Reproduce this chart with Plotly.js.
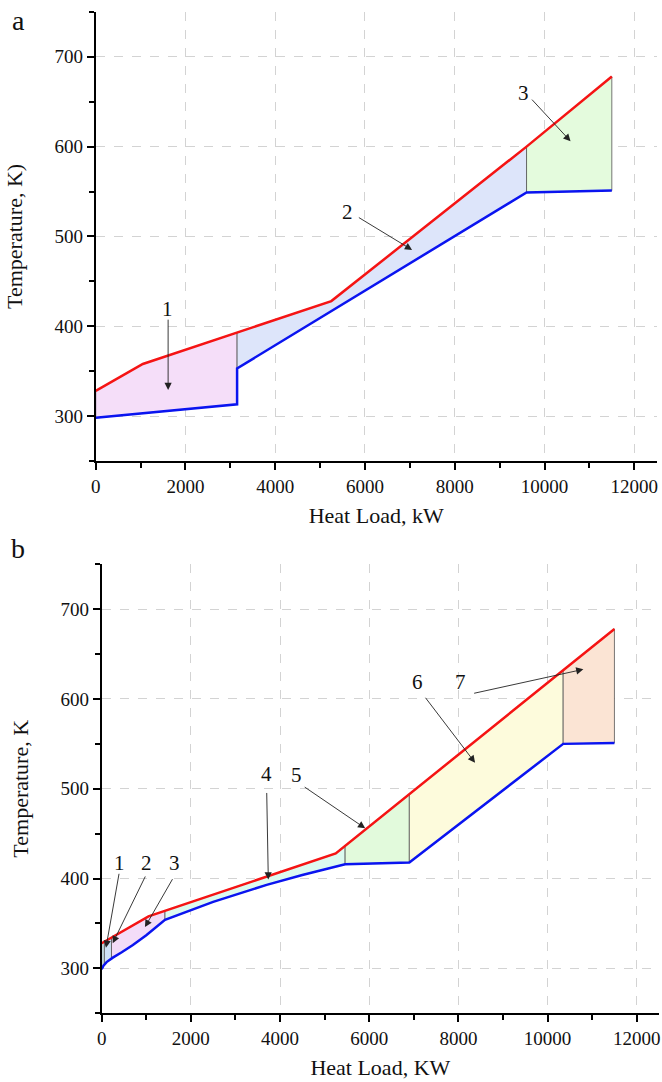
<!DOCTYPE html>
<html>
<head>
<meta charset="utf-8">
<script src="https://cdn.plot.ly/plotly-3.0.1.min.js"></script>
<style>html,body{margin:0;padding:0;background:#fff;}#chart{width:662px;height:1082px;}</style>
</head>
<body>
<div id="chart"></div>
<script>
// ---------- Panel a data ----------
const hotQ_a = [0, 1050, 5250, 9600, 11500];
const hotT_a = [328, 358, 428, 600, 678];
const coldQ_a = [0, 3150, 3150, 9600, 11500];
const coldT_a = [298, 313, 353, 549, 551];
const zoneBounds_a = [0, 3150, 9600, 11500];
const zoneColors_a = ['#f5def9', '#dde5fa', '#e4fbdd'];
const labels_a = ['1', '2', '3'];
const labelTextQ_a = [1600, 5600, 9525];
const labelTextT_a = [419, 527, 660];
const arrowTailQ_a = [1613, 5830, 9690];
const arrowTailT_a = [409, 522, 654];
const arrowTipQ_a = [1613, 7049, 10580];
const arrowTipT_a = [329, 485, 606];

// ---------- Panel b data ----------
const hotQ_b = [0, 1050, 5250, 11500];
const hotT_b = [328, 358, 428, 678];
const coldQ_b = [0, 40, 110, 250, 450, 700, 1000, 1420, 2500, 3700, 4500, 5460, 6900, 10350, 11500];
const coldT_b = [299, 303, 307, 312, 318, 326, 337, 354, 374, 393, 404, 416, 418, 550, 551];
const zoneBounds_b = [0, 60, 220, 1420, 5460, 6900, 10350, 11500];
const zoneColors_b = ['#d4ecf0', '#cfe2f5', '#f3dcf8', '#dcfaf0', '#e2fadc', '#fdfbdc', '#fbe4d4'];
const labels_b = ['1', '2', '3', '4', '5', '6', '7'];
const labelTextQ_b = [410, 994, 1622, 3701, 4374, 7088, 8037];
const labelTextT_b = [417, 417, 417, 517, 515, 619, 619];
const arrowTailQ_b = [395, 994, 1607, 3701, 4520, 7237, 8320];
const arrowTailT_b = [407, 404, 401, 497, 503, 603, 606];
const arrowTipQ_b = [96, 247, 971, 3737, 5910, 8374, 10803];
const arrowTipT_b = [323, 328, 346, 399, 456, 529, 633];

// ---------- helpers ----------
function interp(X, Y, q, fromRight) {
  for (let i = 0; i < X.length; i++) {
    if (X[i] === q) {
      if (fromRight) { let j = i; while (j + 1 < X.length && X[j + 1] === q) j++; return Y[j]; }
      return Y[i];
    }
    if (X[i] > q) {
      const t = (q - X[i - 1]) / (X[i] - X[i - 1]);
      return Y[i - 1] + t * (Y[i] - Y[i - 1]);
    }
  }
  return Y[Y.length - 1];
}
function segment(X, Y, q0, q1) {
  const xs = [q0], ys = [interp(X, Y, q0, true)];
  for (let i = 0; i < X.length; i++) { if (X[i] > q0 && X[i] < q1) { xs.push(X[i]); ys.push(Y[i]); } }
  xs.push(q1); ys.push(interp(X, Y, q1, false));
  return [xs, ys];
}
function zoneTraces(hQ, hT, cQ, cT, bounds, colors, xa, ya) {
  const out = [];
  for (let k = 0; k < bounds.length - 1; k++) {
    const [ux, uy] = segment(hQ, hT, bounds[k], bounds[k + 1]);
    const [lx, ly] = segment(cQ, cT, bounds[k], bounds[k + 1]);
    const px = ux.concat(lx.slice().reverse()); px.push(ux[0]);
    const py = uy.concat(ly.slice().reverse()); py.push(uy[0]);
    out.push({x: px, y: py, xaxis: xa, yaxis: ya, type: 'scatter', mode: 'lines', fill: 'toself',
      fillcolor: colors[k], line: {color: '#555', width: 0.8}, hoverinfo: 'skip', showlegend: false});
  }
  return out;
}
function curveTraces(hQ, hT, cQ, cT, xa, ya) {
  return [
    {x: cQ, y: cT, xaxis: xa, yaxis: ya, type: 'scatter', mode: 'lines', line: {color: '#0a14f0', width: 2.5}, showlegend: false},
    {x: hQ, y: hT, xaxis: xa, yaxis: ya, type: 'scatter', mode: 'lines', line: {color: '#f51414', width: 2.5}, showlegend: false}
  ];
}
const F = 'Liberation Serif, Times New Roman, serif';
function annots(lbl, tq, tt, aq, at, pq, pt, xr, yr) {
  const out = [];
  for (let i = 0; i < lbl.length; i++) {
    out.push({x: tq[i], y: tt[i], xref: xr, yref: yr, text: lbl[i], showarrow: false,
      font: {family: F, size: 21, color: '#111'}});
    out.push({x: pq[i], y: pt[i], ax: aq[i], ay: at[i], xref: xr, yref: yr, axref: xr, ayref: yr,
      text: '', showarrow: true, arrowhead: 2, arrowsize: 1.6, arrowwidth: 0.9, arrowcolor: '#222'});
  }
  return out;
}

const data = [].concat(
  zoneTraces(hotQ_a, hotT_a, coldQ_a, coldT_a, zoneBounds_a, zoneColors_a, 'x', 'y'),
  curveTraces(hotQ_a, hotT_a, coldQ_a, coldT_a, 'x', 'y'),
  zoneTraces(hotQ_b, hotT_b, coldQ_b, coldT_b, zoneBounds_b, zoneColors_b, 'x2', 'y2'),
  curveTraces(hotQ_b, hotT_b, coldQ_b, coldT_b, 'x2', 'y2')
);

function xAxis(domain, anchor, title) {
  return {domain: domain, anchor: anchor, range: [0, 12500], tick0: 0, dtick: 2000, tickformat: 'd',
    showline: true, linecolor: '#000', linewidth: 2, ticks: 'outside', ticklen: 7, tickwidth: 2, tickcolor: '#000',
    minor: {dtick: 1000, ticks: 'outside', ticklen: 5, tickwidth: 2, tickcolor: '#000', showgrid: false},
    showgrid: true, gridcolor: '#d3d3d3', griddash: 'dash', gridwidth: 1, zeroline: false,
    tickfont: {family: F, size: 19, color: '#111'},
    title: {text: title, font: {family: F, size: 22, color: '#111'}, standoff: 12}};
}
function yAxis(domain, anchor, title) {
  return {domain: domain, anchor: anchor, range: [250, 750], tick0: 0, dtick: 100, tickformat: 'd',
    showline: true, linecolor: '#000', linewidth: 2, ticks: 'outside', ticklen: 7, tickwidth: 2, tickcolor: '#000',
    minor: {dtick: 50, ticks: 'outside', ticklen: 5, tickwidth: 2, tickcolor: '#000', showgrid: false},
    showgrid: true, gridcolor: '#d3d3d3', griddash: 'dash', gridwidth: 1, zeroline: false,
    tickfont: {family: F, size: 19, color: '#111'},
    title: {text: title, font: {family: F, size: 22, color: '#111'}, standoff: 26}};
}

const layout = {
  width: 662, height: 1082, margin: {l: 0, r: 0, t: 0, b: 0},
  paper_bgcolor: '#fff', plot_bgcolor: '#fff', showlegend: false,
  xaxis: xAxis([0.1446, 0.992], 'y', 'Heat Load, kW'),
  yaxis: yAxis([0.574, 0.989], 'x', 'Temperature, K)'),
  xaxis2: xAxis([0.1536, 0.9955], 'y2', 'Heat Load, KW'),
  yaxis2: yAxis([0.0635, 0.4785], 'x2', 'Temperature, K'),
  annotations: [].concat(
    annots(labels_a, labelTextQ_a, labelTextT_a, arrowTailQ_a, arrowTailT_a, arrowTipQ_a, arrowTipT_a, 'x', 'y'),
    annots(labels_b, labelTextQ_b, labelTextT_b, arrowTailQ_b, arrowTailT_b, arrowTipQ_b, arrowTipT_b, 'x2', 'y2'),
    [
      {xref: 'paper', yref: 'paper', x: 0.0272, y: 0.9815, xanchor: 'center', yanchor: 'middle', text: 'a', showarrow: false, font: {family: F, size: 28, color: '#111'}},
      {xref: 'paper', yref: 'paper', x: 0.0272, y: 0.4935, xanchor: 'center', yanchor: 'middle', text: 'b', showarrow: false, font: {family: F, size: 28, color: '#111'}}
    ]
  )
};

Plotly.newPlot('chart', data, layout, {staticPlot: true, displayModeBar: false});
</script>
</body>
</html>
